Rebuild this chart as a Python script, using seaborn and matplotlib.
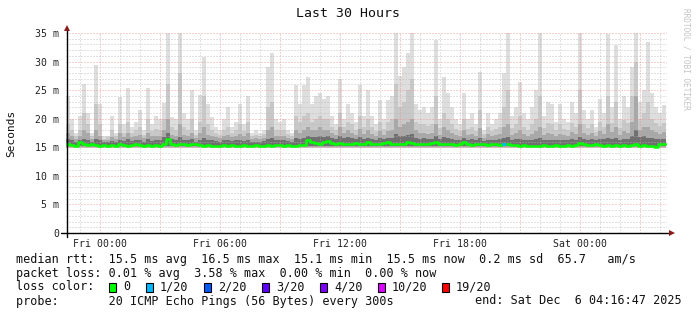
import numpy as np
import pandas as pd
import matplotlib
matplotlib.use("Agg")
import matplotlib.pyplot as plt
from matplotlib.patches import Rectangle
import seaborn as sns

# ---------------- data (ms), one value per 12-minute slot ----------------
slot_start_h = -1.72      # Thu 22:16:47, hours relative to Fri 00:00
slot_len_h = 0.2

rtt_max = [24.0, 20.0, 17.5, 20.5, 26.0, 21.0, 17.5, 29.4, 22.5, 17.0,
           17.0, 20.5, 17.5, 23.8, 19.0, 25.3, 18.5, 19.5, 21.5, 18.0,
           25.3, 19.0, 20.5, 20.0, 22.7, 35.0, 20.3, 20.0, 35.0, 21.0,
           20.0, 25.0, 18.0, 24.2, 30.8, 22.5, 20.3, 18.5, 18.0, 20.0,
           22.0, 18.5, 19.5, 22.5, 19.0, 24.0, 17.5, 18.0, 17.5, 18.0,
           29.0, 31.5, 20.0, 19.5, 20.0, 18.0, 17.5, 25.9, 22.5, 25.9,
           27.3, 22.5, 24.0, 24.5, 23.5, 24.0, 20.5, 19.0, 27.0, 20.0,
           22.5, 21.0, 19.5, 25.9, 20.5, 25.0, 20.5, 19.0, 23.3, 20.0,
           23.3, 24.0, 35.0, 27.5, 29.0, 31.5, 35.0, 22.5, 21.5, 22.0,
           21.0, 22.0, 33.8, 20.0, 27.3, 24.5, 22.0, 20.0, 19.0, 24.5,
           20.0, 21.0, 19.0, 28.2, 18.0, 21.0, 19.0, 20.0, 21.0, 28.0,
           35.0, 20.5, 22.0, 26.4, 21.0, 20.0, 22.0, 25.0, 35.0, 20.5,
           23.0, 22.5, 19.5, 22.5, 20.0, 19.5, 23.0, 21.0, 35.0, 21.5,
           20.0, 21.5, 18.5, 23.5, 21.0, 34.8, 22.0, 32.9, 20.0, 24.0,
           22.0, 29.0, 35.0, 23.0, 25.0, 33.4, 24.5, 22.0, 21.0, 22.4]

rtt_p90 = [19.0, 18.0, 17.0, 18.0, 21.0, 19.0, 17.0, 22.5, 19.0, 16.5,
           16.8, 18.0, 17.0, 19.0, 17.5, 19.5, 17.5, 18.0, 18.5, 17.2,
           20.0, 17.8, 18.2, 18.0, 20.0, 26.0, 18.5, 18.0, 28.0, 18.5,
           18.0, 20.0, 17.2, 19.5, 24.0, 19.0, 18.0, 17.5, 17.2, 18.0,
           18.5, 17.5, 18.0, 19.0, 17.8, 19.5, 17.0, 17.2, 17.0, 17.3,
           22.0, 23.0, 18.0, 18.0, 18.0, 17.3, 17.0, 20.5, 19.5, 20.5,
           21.0, 19.5, 20.0, 20.5, 20.0, 20.0, 18.5, 18.0, 21.0, 18.5,
           19.5, 19.0, 18.0, 20.5, 18.5, 20.0, 18.5, 17.8, 19.5, 18.2,
           19.5, 20.0, 26.0, 22.0, 23.0, 25.0, 27.0, 19.5, 19.0, 19.0,
           18.8, 19.0, 24.0, 18.3, 21.0, 20.0, 19.0, 18.2, 17.8, 20.0,
           18.2, 18.5, 17.8, 21.5, 17.3, 18.5, 17.8, 18.2, 18.5, 22.0,
           25.0, 18.3, 19.0, 20.5, 18.5, 18.0, 19.0, 20.0, 24.0, 18.3,
           19.3, 19.0, 18.0, 19.0, 18.2, 18.0, 19.3, 18.6, 25.0, 19.0,
           18.3, 19.0, 17.6, 19.5, 18.6, 24.0, 19.2, 23.0, 18.3, 19.8,
           19.2, 24.0, 30.0, 20.0, 21.0, 23.0, 20.0, 19.3, 18.7, 19.2]

rtt_p75 = [17.5, 17.0, 16.5, 17.0, 18.0, 17.5, 16.5, 18.0, 17.0, 16.2,
           16.3, 16.8, 16.5, 17.5, 16.8, 17.5, 16.8, 17.0, 17.2, 16.6,
           17.5, 16.9, 17.0, 17.0, 18.0, 20.0, 17.2, 17.0, 19.0, 17.2,
           17.0, 17.5, 16.6, 17.5, 18.5, 17.2, 17.0, 16.8, 16.6, 17.0,
           17.2, 16.8, 17.0, 17.3, 16.9, 17.5, 16.5, 16.6, 16.5, 16.7,
           18.0, 18.5, 17.0, 17.0, 17.0, 16.7, 16.5, 18.0, 17.5, 18.0,
           18.5, 18.0, 18.0, 18.5, 18.0, 18.0, 17.5, 17.2, 18.5, 17.5,
           18.0, 17.5, 17.2, 18.2, 17.3, 18.0, 17.3, 17.0, 17.8, 17.2,
           17.8, 18.0, 20.0, 18.5, 19.0, 19.5, 20.0, 18.0, 17.5, 17.5,
           17.4, 17.5, 19.0, 17.2, 18.5, 18.0, 17.5, 17.2, 17.0, 18.0,
           17.2, 17.3, 16.9, 18.3, 16.7, 17.3, 16.9, 17.1, 17.3, 18.5,
           19.0, 17.2, 17.5, 18.0, 17.3, 17.0, 17.4, 17.8, 18.5, 17.1,
           17.5, 17.4, 17.0, 17.4, 17.1, 17.0, 17.6, 17.3, 19.0, 17.5,
           17.2, 17.5, 16.9, 17.8, 17.4, 19.0, 17.6, 18.5, 17.2, 17.8,
           17.5, 19.5, 24.0, 18.0, 18.5, 18.5, 18.0, 17.6, 17.4, 17.6]

rtt_p60 = [16.5, 16.3, 16.0, 16.2, 16.5, 16.3, 16.0, 16.5, 16.2, 15.9,
           15.9, 16.1, 16.0, 16.3, 16.1, 16.4, 16.1, 16.2, 16.3, 16.0,
           16.4, 16.1, 16.3, 16.2, 16.8, 17.5, 16.5, 16.3, 16.8, 16.3,
           16.2, 16.4, 16.0, 16.3, 16.6, 16.2, 16.2, 16.1, 16.0, 16.2,
           16.3, 16.1, 16.2, 16.3, 16.1, 16.3, 16.0, 16.0, 16.0, 16.1,
           16.5, 16.6, 16.2, 16.2, 16.3, 16.1, 16.0, 16.6, 16.5, 16.7,
           17.0, 16.8, 16.8, 17.0, 16.8, 16.9, 16.7, 16.5, 16.9, 16.6,
           16.8, 16.6, 16.5, 16.8, 16.5, 16.7, 16.4, 16.3, 16.6, 16.4,
           16.6, 16.7, 17.3, 16.9, 17.0, 17.2, 17.3, 16.7, 16.5, 16.6,
           16.5, 16.5, 16.9, 16.4, 16.8, 16.6, 16.5, 16.3, 16.2, 16.6,
           16.3, 16.4, 16.2, 16.6, 16.1, 16.3, 16.2, 16.3, 16.4, 16.7,
           16.8, 16.3, 16.4, 16.5, 16.3, 16.2, 16.3, 16.4, 16.6, 16.2,
           16.3, 16.3, 16.2, 16.3, 16.2, 16.2, 16.4, 16.3, 16.8, 16.4,
           16.3, 16.4, 16.2, 16.5, 16.4, 16.7, 16.5, 16.7, 16.3, 16.5,
           16.4, 17.0, 18.0, 16.8, 16.9, 16.7, 16.6, 16.5, 16.4, 16.5]

rtt_median = [15.5, 15.4, 15.3, 15.9, 15.5, 15.4, 15.5, 15.4, 15.3, 15.4,
              15.3, 15.4, 15.3, 15.5, 15.4, 15.3, 15.4, 15.5, 15.4, 15.3,
              15.4, 15.3, 15.4, 15.3, 15.5, 16.4, 15.6, 15.4, 15.5, 15.5,
              15.4, 15.5, 15.6, 15.4, 15.3, 15.4, 15.3, 15.3, 15.3, 15.4,
              15.3, 15.4, 15.3, 15.3, 15.4, 15.3, 15.3, 15.4, 15.3, 15.3,
              15.4, 15.3, 15.4, 15.4, 15.3, 15.4, 15.3, 15.3, 15.4, 15.4,
              16.2, 16.0, 15.7, 15.6, 15.9, 16.1, 15.7, 15.6, 15.8, 15.6,
              15.6, 15.5, 15.7, 15.5, 15.6, 15.9, 15.6, 15.5, 15.6, 15.8,
              15.9, 15.5, 15.6, 15.5, 15.6, 15.9, 15.8, 15.5, 15.6, 15.5,
              15.6, 15.7, 15.9, 15.6, 15.5, 15.6, 15.5, 15.4, 15.5, 15.9,
              15.5, 15.4, 15.5, 15.6, 15.5, 15.4, 15.5, 15.6, 15.4, 15.5,
              15.6, 15.4, 15.4, 15.3, 15.4, 15.3, 15.3, 15.3, 15.3, 15.4,
              15.3, 15.3, 15.4, 15.3, 15.3, 15.4, 15.3, 15.4, 15.7, 15.5,
              15.4, 15.4, 15.5, 15.4, 15.3, 15.4, 15.3, 15.4, 15.3, 15.4,
              15.3, 15.4, 15.5, 15.3, 15.4, 15.3, 15.3, 15.1, 15.5, 15.5]

smoke_floor = [14.8, 14.9, 15.0, 15.15]   # bottoms of the smoke layers

loss_slot_index = [109]
loss_slot_count = [1]

loss_labels = ["0", "1/20", "2/20", "3/20", "4/20", "10/20", "19/20"]
loss_thresholds = [0, 1, 2, 3, 4, 10, 19]
loss_colors = ["#00ff00", "#00b8ff", "#0059ff", "#5e00ff", "#7e00ff", "#dd00ff", "#ff0000"]

xtick_pos = [0, 6, 12, 18, 24]
xtick_labels = ["Fri 00:00", "Fri 06:00", "Fri 12:00", "Fri 18:00", "Sat 00:00"]
ytick_pos = [0, 5, 10, 15, 20, 25, 30, 35]
ytick_labels = ["0", "5 m", "10 m", "15 m", "20 m", "25 m", "30 m", "35 m"]

title = "Last 30 Hours"
ylabel = "Seconds"
stat_lines = [
    "median rtt:  15.5 ms avg  16.5 ms max  15.1 ms min  15.5 ms now  0.2 ms sd  65.7   am/s",
    "packet loss: 0.01 % avg  3.58 % max  0.00 % min  0.00 % now",
]
loss_line_head = "loss color:"
probe_text = "probe:       20 ICMP Echo Pings (56 Bytes) every 300s"
end_text = "end: Sat Dec  6 04:16:47 2025"
watermark = "RRDTOOL / TOBI OETIKER"

# ---------------- figure ----------------
sns.set_style("white")
plt.rcParams['font.family'] = ['DejaVu Sans Mono']

W, H = 697, 315
fig = plt.figure(figsize=(W / 100, H / 100), dpi=100)
fig.patch.set_facecolor("white")
ax = fig.add_axes([66 / W, (H - 233) / H, 601 / W, 200 / H])
ax.set_facecolor("white")

n = len(rtt_median)
edges = slot_start_h + slot_len_h * np.arange(n + 1)


def ext(a):
    a = np.asarray(a, dtype=float)
    return np.append(a, a[-1])


smoke = [(rtt_max, smoke_floor[0], "#dedede"),
         (rtt_p90, smoke_floor[1], "#c8c8c8"),
         (rtt_p75, smoke_floor[2], "#a8a8a8"),
         (rtt_p60, smoke_floor[3], "#707070")]
for vals, fl, col in smoke:
    ax.fill_between(edges, fl, ext(vals), step="post", color=col,
                    linewidth=0, zorder=1)

df = pd.DataFrame({"t": edges, "rtt": ext(rtt_median)})
sns.lineplot(data=df, x="t", y="rtt", drawstyle="steps-post", color=loss_colors[0],
             linewidth=1.8, estimator=None, sort=False, ax=ax, zorder=4)

for idx, cnt in zip(loss_slot_index, loss_slot_count):
    ci = max(i for i, th in enumerate(loss_thresholds) if th <= cnt)
    ax.plot([edges[idx], edges[idx + 1]], [rtt_median[idx]] * 2,
            color=loss_colors[ci], linewidth=2.0, zorder=5, solid_capstyle="butt")

ax.set_xlim(edges[0], edges[0] + 30.05)
ax.set_ylim(0, 35)
ax.set_xlabel("")

# grid
maj_x = np.arange(0, 28, 3)
ax.set_xticks(maj_x)
ax.set_xticklabels([xtick_labels[xtick_pos.index(v)] if v in xtick_pos else ""
                    for v in maj_x])
ax.set_xticks(np.arange(-1, 29, 1), minor=True)
ax.set_yticks(ytick_pos)
ax.set_yticklabels(ytick_labels)
ax.set_yticks(np.arange(0, 36, 1), minor=True)
ax.set_axisbelow(False)
ax.grid(which="major", color="#ec8c8c", linestyle=(0, (1, 2)), linewidth=0.72, alpha=0.8)
ax.grid(which="minor", color="#b4b4b4", linestyle=(0, (1, 2)), linewidth=0.72, alpha=0.75)
for gl in ax.get_xgridlines() + ax.get_ygridlines():
    gl.set_zorder(3)

ax.tick_params(axis="both", which="minor", length=0)
ax.tick_params(axis="y", which="major", length=3, width=0.8, pad=2, labelsize=7.1,
               colors="#222222", direction="out")
ax.tick_params(axis="x", which="major", length=2, width=0.8, pad=2, labelsize=7.1,
               colors="#222222", direction="out")
ax.set_ylabel(ylabel, fontsize=8, color="#111111")
ax.yaxis.set_label_coords(-(66 - 16) / 601, 0.5)

for s in ax.spines.values():
    s.set_visible(False)
ax.plot([-5 / 601, 1 + 3 / 601], [0, 0], color="black", lw=1.0,
        transform=ax.transAxes, clip_on=False, zorder=6)
ax.plot([1 / 601, 1 / 601], [-4 / 200, 1 + 4 / 200], color="black", lw=1.0,
        transform=ax.transAxes, clip_on=False, zorder=6)
ax.plot([1 / 601], [1 + 5 / 200], marker="^", ms=5, color="#8b1a1a",
        transform=ax.transAxes, clip_on=False, zorder=7, mew=0)
ax.plot([1 + 5 / 601], [0], marker=">", ms=5, color="#8b1a1a",
        transform=ax.transAxes, clip_on=False, zorder=7, mew=0)

# texts
fig.text(347.5 / W, 1 - 13.5 / H, title, ha="center", va="center", fontsize=9.5,
         color="#111111")
fig.text(686 / W, 1 - 59 / H, watermark, ha="center", va="center", rotation=270,
         fontsize=5.6, color="#c4c4c4")

fs = 8.5
line_y = [259, 273, 287, 301]
fig.text(16 / W, 1 - line_y[0] / H, stat_lines[0], ha="left", va="center",
         fontsize=fs, color="#111111")
fig.text(16 / W, 1 - line_y[1] / H, stat_lines[1], ha="left", va="center",
         fontsize=fs, color="#111111")
fig.text(16 / W, 1 - line_y[2] / H, loss_line_head, ha="left", va="center",
         fontsize=fs, color="#111111")
box_x = [109, 146, 204, 262, 320, 378, 442]
for bx, lab, col in zip(box_x, loss_labels, loss_colors):
    fig.patches.append(Rectangle((bx / W, 1 - (line_y[2] + 4.5) / H), 7 / W, 9 / H,
                                 transform=fig.transFigure, facecolor=col,
                                 edgecolor="black", linewidth=0.8))
    fig.text((bx + 14) / W, 1 - line_y[2] / H, lab, ha="left", va="center",
             fontsize=fs, color="#111111")
fig.text(16 / W, 1 - line_y[3] / H, probe_text, ha="left", va="center",
         fontsize=fs, color="#111111")
fig.text(682 / W, 1 - line_y[3] / H, end_text, ha="right", va="center",
         fontsize=fs, color="#111111")

fig.savefig("out.png", dpi=100, facecolor="white")
